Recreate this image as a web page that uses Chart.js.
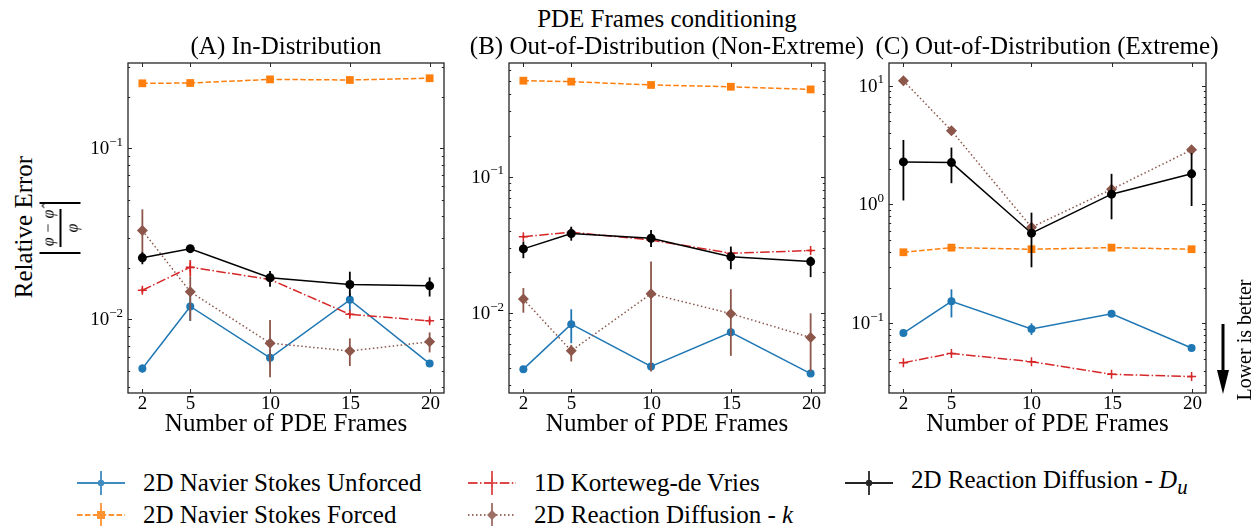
<!DOCTYPE html>
<html>
<head>
<meta charset="utf-8">
<script src="https://cdn.jsdelivr.net/npm/chart.js@4.4.0/dist/chart.umd.min.js"></script>
<style>
  body { margin: 0; background: #fff; font-family: "Liberation Serif", serif; color: #000; }
  #wrap { position: relative; width: 1252px; height: 526px; overflow: hidden; }
  canvas { position: absolute; }
  .txt { position: absolute; white-space: nowrap; font-size: 25px; line-height: 1; transform: translate(-50%, -50%); }
  .rot { transform: translate(-50%, -50%) rotate(-90deg); }
  .frac { position: absolute; transform: translate(-50%, -50%) rotate(-90deg); display: flex; align-items: center;
          border-left: 2px solid #000; border-right: 2px solid #000; height: 41px; padding: 0 5px; font-size: 16px; font-style: italic; }
  .frac .col { display: flex; flex-direction: column; align-items: center; }
  .frac .bar { width: 38px; border-top: 2px solid #000; margin: 2px 0; }
  .leg { position: absolute; display: flex; align-items: center; font-size: 25px; white-space: nowrap; transform: translateY(-50%); }
  .leg svg { margin-right: 18px; }
</style>
</head>
<body>
<div id="wrap">
  <canvas id="panelA" width="410" height="385" style="left:50px;top:55px"></canvas>
  <canvas id="panelB" width="410" height="385" style="left:431px;top:55px"></canvas>
  <canvas id="panelC" width="411" height="385" style="left:811px;top:55px"></canvas>

  <div class="txt" style="left:667px;top:18px">PDE Frames conditioning</div>
  <div class="txt" style="left:286px;top:45px">(A) In-Distribution</div>
  <div class="txt" style="left:667px;top:45px">(B) Out-of-Distribution (Non-Extreme)</div>
  <div class="txt" style="left:1047px;top:45px">(C) Out-of-Distribution (Extreme)</div>

  <div class="txt rot" style="left:23px;top:227px">Relative Error</div>
  <div class="frac" style="left:60px;top:228px">
    <div class="col"><span>φ − φ̂</span><div class="bar"></div><span>φ</span></div>
  </div>

  <div class="txt rot" style="left:1244px;top:340px;font-size:20px">Lower is better</div>
  <svg style="position:absolute;left:1215px;top:324px" width="16" height="72">
    <rect x="6.5" y="0" width="3" height="50" fill="#000"></rect>
    <polygon points="2,46 14,46 8,70" fill="#000"></polygon>
  </svg>
</div>

<script>
// x positions (number of PDE frames)
const frames = [2, 5, 10, 15, 20];
const xTicks = [2, 5, 10, 15, 20];

const seriesNames = [
  "2D Navier Stokes Unforced",
  "2D Navier Stokes Forced",
  "1D Korteweg-de Vries",
  "2D Reaction Diffusion - <i>k</i>",
  "2D Reaction Diffusion - <i>D</i><sub><i>u</i></sub>",
];

// (A) In-Distribution
const aUnforced = [0.00516, 0.0119, 0.00596, 0.0130, 0.00551];
const aUnforcedErr = [[0.00488, 0.00545], [0.0098, 0.0142], [0.0054, 0.0066], [0.0111, 0.0142], [0.0053, 0.0057]];
const aForced = [0.240, 0.241, 0.253, 0.251, 0.257];
const aForcedErr = [[0.236, 0.244], [0.237, 0.245], [0.249, 0.257], [0.247, 0.255], [0.253, 0.261]];
const aKdv = [0.0148, 0.0202, 0.0171, 0.0107, 0.0098];
const aKdvErr = [[0.0143, 0.0153], [0.0178, 0.0222], [0.0165, 0.0178], [0.0104, 0.0110], [0.0095, 0.0101]];
const aRdK = [0.0331, 0.0145, 0.00726, 0.00653, 0.00739];
const aRdKErr = [[0.0232, 0.0440], [0.0098, 0.0178], [0.00458, 0.0099], [0.00533, 0.00774], [0.00641, 0.00839]];
const aRdDu = [0.0229, 0.0259, 0.0175, 0.0160, 0.0157];
const aRdDuErr = [[0.0210, 0.0247], [0.0252, 0.0266], [0.0155, 0.0192], [0.0136, 0.0190], [0.0136, 0.0176]];

// (B) Out-of-Distribution (Non-Extreme)
const bUnforced = [0.00390, 0.00832, 0.00408, 0.00726, 0.00362];
const bUnforcedErr = [[0.0038, 0.0040], [0.00604, 0.0107], [0.0038, 0.0043], [0.0068, 0.0078], [0.0035, 0.0037]];
const bForced = [0.504, 0.496, 0.469, 0.455, 0.435];
const bForcedErr = [[0.495, 0.513], [0.487, 0.505], [0.461, 0.477], [0.447, 0.463], [0.427, 0.443]];
const bKdv = [0.0364, 0.0392, 0.0344, 0.0275, 0.0288];
const bKdvErr = [[0.0355, 0.0373], [0.0370, 0.0415], [0.0335, 0.0353], [0.0268, 0.0282], [0.0280, 0.0296]];
const bRdK = [0.0127, 0.00531, 0.0139, 0.00994, 0.00664];
const bRdKErr = [[0.0101, 0.0153], [0.00444, 0.00587], [0.00375, 0.0239], [0.00488, 0.0150], [0.00375, 0.0100]];
const bRdDu = [0.0296, 0.0383, 0.0354, 0.0259, 0.0239];
const bRdDuErr = [[0.0253, 0.0335], [0.0340, 0.0430], [0.0305, 0.0407], [0.0210, 0.0308], [0.0184, 0.0260]];

// (C) Out-of-Distribution (Extreme)
const cUnforced = [0.0828, 0.153, 0.0895, 0.120, 0.0619];
const cUnforcedErr = [[0.080, 0.086], [0.112, 0.193], [0.0798, 0.100], [0.116, 0.124], [0.060, 0.064]];
const cForced = [0.396, 0.433, 0.420, 0.433, 0.420];
const cForcedErr = [[0.388, 0.404], [0.425, 0.441], [0.412, 0.428], [0.425, 0.441], [0.412, 0.428]];
const cKdv = [0.0466, 0.0558, 0.0475, 0.0372, 0.0356];
const cKdvErr = [[0.0458, 0.0474], [0.0545, 0.0571], [0.0466, 0.0484], [0.0365, 0.0379], [0.0349, 0.0363]];
const cRdK = [11.0, 4.18, 0.643, 1.34, 2.88];
const cRdKErr = [[10.6, 11.4], [4.05, 4.31], [0.62, 0.67], [1.29, 1.39], [2.78, 2.98]];
const cRdDu = [2.28, 2.25, 0.573, 1.22, 1.81];
const cRdDuErr = [[1.08, 3.49], [1.51, 3.01], [0.296, 0.853], [0.750, 1.81], [0.97, 2.70]];

// y ranges and major tick values per panel
const aYRange = [0.00371, 0.3155];
const bYRange = [0.00261, 0.679];
const cYRange = [0.0259, 15.5];
const aYTicks = [0.01, 0.1];
const bYTicks = [0.01, 0.1];
const cYTicks = [0.1, 1, 10];

// styles, in legend / series order
const styles = [
  { color: "#1f77b4", dash: [], point: "circle", radius: 4 },
  { color: "#ff7f0e", dash: [5.5, 2.4], point: "rect", radius: 5.5 },
  { color: "#d62728", dash: [9.6, 2.4, 1.5, 2.4], point: "cross", radius: 4.5 },
  { color: "#8c564b", dash: [1.5, 2.5], point: "rectRot", radius: 5.5 },
  { color: "#000000", dash: [], point: "circle", radius: 4.5 },
];

const FONT = "Liberation Serif";

function buildDatasets(valueSets, errSets) {
  return valueSets.map((vals, k) => {
    const st = styles[k];
    return {
      label: seriesNames[k],
      data: frames.map((x, i) => ({ x, y: vals[i] })),
      errors: errSets[k],
      borderColor: st.color,
      backgroundColor: st.color,
      pointBackgroundColor: st.color,
      pointBorderColor: st.color,
      pointBorderWidth: st.point === "cross" ? 1.5 : 0,
      borderWidth: 1.5,
      borderDash: st.dash,
      pointStyle: st.point,
      pointRadius: st.radius,
      tension: 0,
      order: valueSets.length - k,
    };
  });
}

function supLabel(ctx, value, xRight, y) {
  const exp = Math.round(Math.log10(value));
  const expText = exp < 0 ? "\u2212" + Math.abs(exp) : String(exp);
  ctx.font = `13px "${FONT}"`;
  const ew = ctx.measureText(expText).width;
  ctx.textAlign = "right";
  ctx.textBaseline = "middle";
  ctx.fillText(expText, xRight, y - 6);
  ctx.font = `19px "${FONT}"`;
  ctx.fillText("10", xRight - ew, y + 1);
}

const errorBars = {
  id: "errorBars",
  beforeDatasetDraw(chart, args) {
    const ds = chart.data.datasets[args.index];
    if (!ds.errors) return;
    const { ctx, chartArea, scales } = chart;
    ctx.save();
    ctx.beginPath();
    ctx.rect(chartArea.left, chartArea.top, chartArea.right - chartArea.left, chartArea.bottom - chartArea.top);
    ctx.clip();
    ctx.strokeStyle = ds.borderColor;
    ctx.lineWidth = 1.8;
    ds.errors.forEach((e, i) => {
      if (!e) return;
      const x = scales.x.getPixelForValue(ds.data[i].x);
      ctx.beginPath();
      ctx.moveTo(x, scales.y.getPixelForValue(e[0]));
      ctx.lineTo(x, scales.y.getPixelForValue(e[1]));
      ctx.stroke();
    });
    ctx.restore();
  },
};

const frameTicks = {
  id: "frameTicks",
  afterDraw(chart) {
    const { ctx, chartArea: a, scales } = chart;
    const ys = scales.y, xs = scales.x;
    ctx.save();
    ctx.strokeStyle = "#262626";
    ctx.lineWidth = 1;
    // minor + major y ticks, inward, both sides
    const lo = Math.floor(Math.log10(ys.min)), hi = Math.ceil(Math.log10(ys.max));
    for (let e = lo; e <= hi; e++) {
      for (let s = 1; s <= 9; s++) {
        const v = s * Math.pow(10, e);
        if (v <= ys.min || v >= ys.max) continue;
        const py = Math.round(ys.getPixelForValue(v)) + 0.5;
        const len = s === 1 ? 4 : 2.2;
        ctx.beginPath();
        ctx.moveTo(a.left, py); ctx.lineTo(a.left + len, py);
        ctx.moveTo(a.right, py); ctx.lineTo(a.right - len, py);
        ctx.stroke();
      }
    }
    // x ticks, inward, top and bottom, with labels under the axis
    ctx.fillStyle = "#000";
    ctx.font = `19px "${FONT}"`;
    ctx.textAlign = "center";
    ctx.textBaseline = "middle";
    xs.ticks.forEach((t) => {
      const px = Math.round(xs.getPixelForValue(t.value)) + 0.5;
      ctx.beginPath();
      ctx.moveTo(px, a.bottom); ctx.lineTo(px, a.bottom - 4);
      ctx.moveTo(px, a.top); ctx.lineTo(px, a.top + 4);
      ctx.stroke();
      ctx.fillText(String(t.value), px, a.bottom + 11);
    });
    // frame
    ctx.lineWidth = 1.3;
    ctx.strokeRect(a.left, a.top, a.right - a.left, a.bottom - a.top);
    // y tick labels (10^n)
    ys.ticks.forEach((t) => {
      supLabel(ctx, t.value, a.left - 5, ys.getPixelForValue(t.value));
    });
    ctx.restore();
  },
};

function makePanel(id, valueSets, errSets, yRange, yTicks, rightPad) {
  return new Chart(document.getElementById(id), {
    type: "line",
    data: { datasets: buildDatasets(valueSets, errSets) },
    options: {
      responsive: false,
      animation: false,
      devicePixelRatio: 1,
      layout: { padding: { left: 0, right: rightPad, top: 8, bottom: 0 } },
      plugins: { legend: { display: false }, tooltip: { enabled: false } },
      scales: {
        x: {
          type: "linear",
          min: 1.1,
          max: 20.9,
          afterBuildTicks: (s) => { s.ticks = xTicks.map((v) => ({ value: v })); },
          afterFit: (s) => { s.height = 47; },
          grid: { display: false },
          border: { display: false },
          ticks: { display: false },
          title: { display: true, text: "Number of PDE Frames", color: "#000",
                   font: { family: FONT, size: 25 }, padding: { top: 0, bottom: 1 } },
        },
        y: {
          type: "logarithmic",
          min: yRange[0],
          max: yRange[1],
          afterBuildTicks: (s) => { s.ticks = yTicks.map((v) => ({ value: v })); },
          afterFit: (s) => { s.width = 78; },
          grid: { display: false },
          border: { display: false },
          ticks: { display: false },
        },
      },
    },
    plugins: [errorBars, frameTicks],
  });
}

makePanel("panelA", [aUnforced, aForced, aKdv, aRdK, aRdDu],
  [aUnforcedErr, aForcedErr, aKdvErr, aRdKErr, aRdDuErr], aYRange, aYTicks, 16);
makePanel("panelB", [bUnforced, bForced, bKdv, bRdK, bRdDu],
  [bUnforcedErr, bForcedErr, bKdvErr, bRdKErr, bRdDuErr], bYRange, bYTicks, 16);
makePanel("panelC", [cUnforced, cForced, cKdv, cRdK, cRdDu],
  [cUnforcedErr, cForcedErr, cKdvErr, cRdKErr, cRdDuErr], cYRange, cYTicks, 16);

// legend (matplotlib-style errorbar handles)
const legendPos = [
  { x: 77, y: 483 }, { x: 77, y: 515 }, { x: 468, y: 483 }, { x: 468, y: 515 }, { x: 845, y: 483 },
];

function handleSvg(st) {
  const c = st.color;
  let marker = "";
  if (st.point === "circle") marker = `<circle cx="24" cy="12" r="3.2" fill="${c}"/>`;
  if (st.point === "rect") marker = `<rect x="20" y="8" width="8" height="8" fill="${c}"/>`;
  if (st.point === "rectRot") marker = `<polygon points="24,7 29,12 24,17 19,12" fill="${c}"/>`;
  if (st.point === "cross") marker = `<path d="M19.5 12H28.5M24 7.5V16.5" stroke="${c}" stroke-width="1.5"/>`;
  const dash = st.dash.length ? `stroke-dasharray="${st.dash.join(" ")}"` : "";
  return `<svg width="48" height="24" style="opacity:0.85">
    <line x1="0" y1="12" x2="48" y2="12" stroke="${c}" stroke-width="1.8" ${dash}/>
    <line x1="24" y1="0" x2="24" y2="24" stroke="${c}" stroke-width="1.8"/>
    ${marker}</svg>`;
}

const wrap = document.getElementById("wrap");
seriesNames.forEach((name, k) => {
  const el = document.createElement("div");
  el.className = "leg";
  el.style.left = legendPos[k].x + "px";
  el.style.top = legendPos[k].y + "px";
  el.innerHTML = handleSvg(styles[k]) + `<span>${name}</span>`;
  wrap.appendChild(el);
});
</script>
</body>
</html>
